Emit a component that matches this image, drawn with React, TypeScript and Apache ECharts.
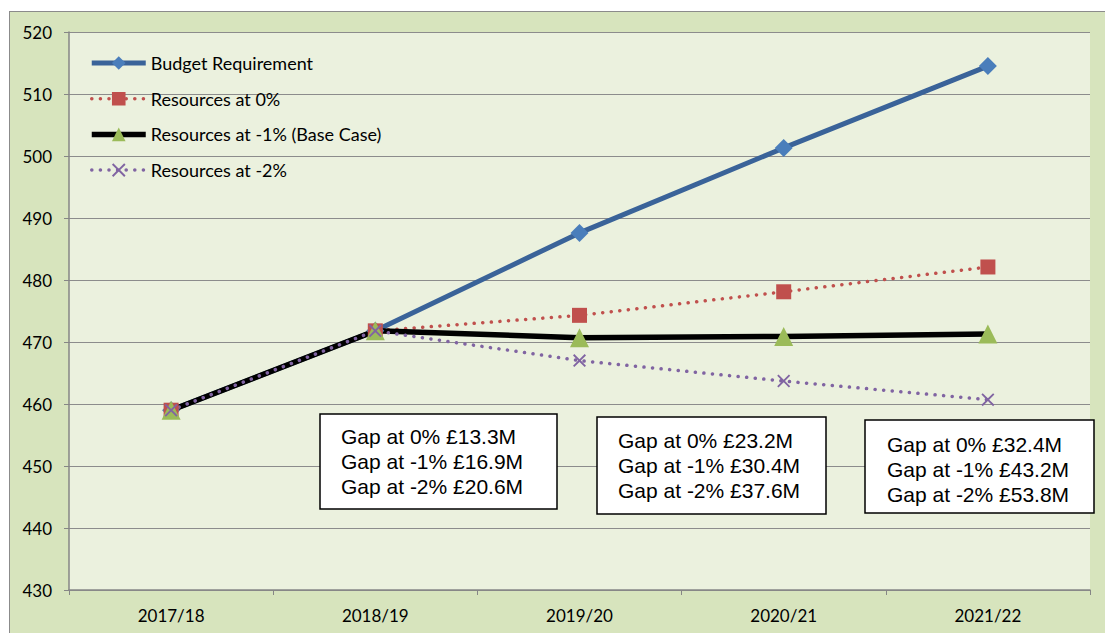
import React, { useEffect, useRef } from "react";
import * as echarts from "echarts";

const categories = ["2017/18", "2018/19", "2019/20", "2020/21", "2021/22"];
const budgetRequirement = [459.0, 471.8, 487.6, 501.3, 514.5];
const resourcesAt0 = [459.0, 471.8, 474.3, 478.1, 482.1];
const resourcesAtMinus1 = [459.0, 471.8, 470.7, 470.9, 471.3];
const resourcesAtMinus2 = [459.0, 471.8, 467.0, 463.7, 460.7];
const seriesNames = [
  "Budget Requirement",
  "Resources at 0%",
  "Resources at -1% (Base Case)",
  "Resources at -2%",
];
const gapLabels2019 = ["Gap at 0% £13.3M", "Gap at -1% £16.9M", "Gap at -2% £20.6M"];
const gapLabels2020 = ["Gap at 0% £23.2M", "Gap at -1% £30.4M", "Gap at -2% £37.6M"];
const gapLabels2021 = ["Gap at 0% £32.4M", "Gap at -1% £43.2M", "Gap at -2% £53.8M"];

const W = 1105;
const H = 633;
const GRID = { left: 69, top: 32, right: 15, bottom: 43 };

const boxes = [
  { x: 320, y: 414, w: 237, h: 95, tx: 341, ty: 424, lines: gapLabels2019 },
  { x: 597, y: 417, w: 229, h: 97, tx: 618, ty: 428, lines: gapLabels2020 },
  { x: 865, y: 420, w: 229, h: 93, tx: 887, ty: 432, lines: gapLabels2021 },
];

const xSymbol =
  "path://M0,1 L1,0 L5,4 L9,0 L10,1 L6,5 L10,9 L9,10 L5,6 L1,10 L0,9 L4,5 Z";
const dots: any = [0.1, 8.5];

export default function App() {
  const ref = useRef<HTMLDivElement>(null);
  useEffect(() => {
    if (!ref.current) return;
    const chart = echarts.init(ref.current, undefined, { renderer: "svg" });
    const graphic: any[] = [];
    boxes.forEach((b) => {
      graphic.push({
        type: "rect",
        shape: { x: b.x, y: b.y, width: b.w, height: b.h },
        style: { fill: "#ffffff", stroke: "#000000", lineWidth: 1.5 },
        z: 100,
      });
      graphic.push({
        type: "text",
        x: b.tx,
        y: b.ty,
        style: {
          text: b.lines.join("\n"),
          font: '21px "Liberation Sans", Arial, sans-serif',
          fill: "#000000",
          lineHeight: 25,
          verticalAlign: "top",
          align: "left",
        },
        z: 101,
      });
    });
    chart.setOption({
      animation: false,
      backgroundColor: "transparent",
      grid: {
        left: GRID.left,
        top: GRID.top,
        right: GRID.right,
        bottom: GRID.bottom,
        show: true,
        backgroundColor: "#EBF1DE",
        borderWidth: 0,
      },
      legend: {
        orient: "vertical",
        left: 89,
        top: 54,
        padding: 0,
        itemWidth: 54,
        itemHeight: 17,
        itemGap: 17.7,
        data: [
          { name: seriesNames[0], lineStyle: { width: 5 } },
          { name: seriesNames[1], lineStyle: { width: 3.5 } },
          { name: seriesNames[2], lineStyle: { width: 5.5 } },
          { name: seriesNames[3], lineStyle: { width: 3.5 } },
        ],
        textStyle: { fontFamily: "Lato", fontSize: 18, color: "#000000" },
      },
      xAxis: {
        type: "category",
        data: categories,
        boundaryGap: true,
        axisLine: { lineStyle: { color: "#868686", width: 1.5 } },
        axisTick: { show: true, length: 5, lineStyle: { color: "#868686" } },
        axisLabel: { fontFamily: "Lato", fontSize: 17, color: "#000000", margin: 17 },
      },
      yAxis: {
        type: "value",
        min: 430,
        max: 520,
        interval: 10,
        axisLine: { show: true, lineStyle: { color: "#868686", width: 1.5 } },
        axisTick: { show: true, length: 5, lineStyle: { color: "#868686" } },
        axisLabel: { fontFamily: "Lato", fontSize: 17, color: "#000000", margin: 17 },
        splitLine: { lineStyle: { color: "#8C8C8C", width: 1.2 } },
      },
      series: [
        {
          name: seriesNames[0],
          type: "line",
          data: budgetRequirement,
          symbol: "diamond",
          symbolSize: 18,
          itemStyle: { color: "#4A7EBB" },
          lineStyle: { color: "#3A6399", width: 5 },
        },
        {
          name: seriesNames[1],
          type: "line",
          data: resourcesAt0,
          symbol: "rect",
          symbolSize: 15,
          itemStyle: { color: "#C0504D" },
          lineStyle: { color: "#C0504D", width: 3.5, type: dots, cap: "round" },
        },
        {
          name: seriesNames[2],
          type: "line",
          data: resourcesAtMinus1,
          symbol: "triangle",
          symbolSize: 19,
          itemStyle: { color: "#9BBB59" },
          lineStyle: { color: "#000000", width: 5.5 },
        },
        {
          name: seriesNames[3],
          type: "line",
          data: resourcesAtMinus2,
          symbol: xSymbol,
          symbolSize: 13,
          itemStyle: { color: "#8064A2" },
          lineStyle: { color: "#8064A2", width: 3.5, type: dots, cap: "round" },
        },
      ],
      graphic,
    });
    return () => chart.dispose();
  }, []);
  return (
    <div
      style={{
        position: "absolute",
        left: 0,
        top: 0,
        width: W,
        height: H,
        background: "#ffffff",
        overflow: "hidden",
      }}
    >
      <div
        style={{
          position: "absolute",
          left: 9,
          top: 11,
          right: 0,
          bottom: 0,
          background: "#D7E4BD",
          borderLeft: "1px solid #8B8B8B",
          borderTop: "1px solid #8B8B8B",
        }}
      />
      <div ref={ref} style={{ position: "absolute", left: 0, top: 0, width: W, height: H }} />
    </div>
  );
}
